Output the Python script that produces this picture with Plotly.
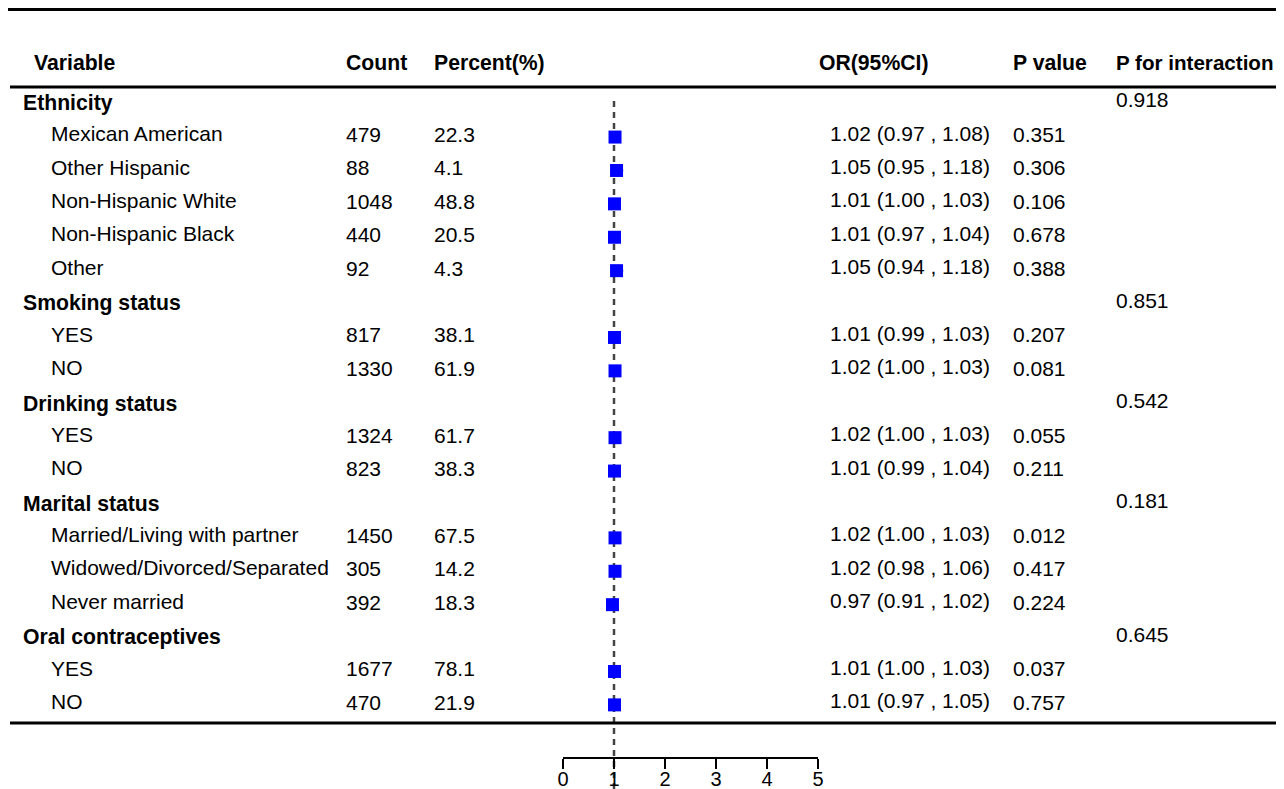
import plotly.graph_objects as go

# ---------------- data ----------------
labels = ["Ethnicity", "Mexican American", "Other Hispanic", "Non-Hispanic White",
          "Non-Hispanic Black", "Other", "Smoking status", "YES", "NO",
          "Drinking status", "YES", "NO", "Marital status",
          "Married/Living with partner", "Widowed/Divorced/Separated", "Never married",
          "Oral contraceptives", "YES", "NO"]
is_group = [True, False, False, False, False, False, True, False, False,
            True, False, False, True, False, False, False, True, False, False]
counts = [None, 479, 88, 1048, 440, 92, None, 817, 1330, None, 1324, 823,
          None, 1450, 305, 392, None, 1677, 470]
percents = [None, "22.3", "4.1", "48.8", "20.5", "4.3", None, "38.1", "61.9", None,
            "61.7", "38.3", None, "67.5", "14.2", "18.3", None, "78.1", "21.9"]
or_est = [None, 1.02, 1.05, 1.01, 1.01, 1.05, None, 1.01, 1.02, None, 1.02, 1.01,
          None, 1.02, 1.02, 0.97, None, 1.01, 1.01]
ci_low = [None, 0.97, 0.95, 1.00, 0.97, 0.94, None, 0.99, 1.00, None, 1.00, 0.99,
          None, 1.00, 0.98, 0.91, None, 1.00, 0.97]
ci_high = [None, 1.08, 1.18, 1.03, 1.04, 1.18, None, 1.03, 1.03, None, 1.03, 1.04,
           None, 1.03, 1.06, 1.02, None, 1.03, 1.05]
p_values = [None, "0.351", "0.306", "0.106", "0.678", "0.388", None, "0.207", "0.081",
            None, "0.055", "0.211", None, "0.012", "0.417", "0.224", None, "0.037", "0.757"]
p_interaction = ["0.918", None, None, None, None, None, "0.851", None, None,
                 "0.542", None, None, "0.181", None, None, None, "0.645", None, None]
headers = ["Variable", "Count", "Percent(%)", "OR(95%CI)", "P value", "P for interaction"]
axis_ticks = [0, 1, 2, 3, 4, 5]
ref_value = 1

# ---------------- layout constants ----------------
PAGE_OFF = 8                      # default body margin of the html page
W, H = 1284 - PAGE_OFF, 789 - PAGE_OFF
ROW0, ROWH = 103.0, 33.4          # page-pixel centre of first row, row pitch


def px_x(p):
    return (p - PAGE_OFF) / W


def px_y(p):
    return 1 - (p - PAGE_OFF) / H


FONT = "Liberation Sans, Arial, Helvetica, sans-serif"
REG = dict(family=FONT, size=21, color="#000000")
BOLD = dict(family=FONT, size=21.2, color="#000000")
BOLD_LAST = dict(family=FONT, size=20.6, color="#000000")

col_x = {"label_group": 22, "label_sub": 50, "count": 345, "percent": 433,
         "or": 829, "p": 1012, "pint": 1115}
head_x = [33, 345, 433, 818, 1012, 1115]
# small vertical nudges (in rows) so glyphs sit like the reference
dy = {"label": -0.08, "count": -0.06, "percent": -0.06, "or": -0.1, "p": -0.06,
      "pint": -0.1, "marker": 0.02}

rows = list(range(len(labels)))
annotations = []


def add_text(x_px, row, text, font):
    annotations.append(dict(x=px_x(x_px - 1), xref="paper", y=row, yref="y",
                            text=text, showarrow=False, xanchor="left",
                            yanchor="middle", font=font))


# header
for k, (hx, h) in enumerate(zip(head_x, headers)):
    add_text(hx, -1.2, "<b>%s</b>" % h, BOLD_LAST if k == len(headers) - 1 else BOLD)

for i in rows:
    if is_group[i]:
        add_text(col_x["label_group"], i, "<b>%s</b>" % labels[i], BOLD)
    else:
        add_text(col_x["label_sub"], i + dy["label"], labels[i], REG)
    if counts[i] is not None:
        add_text(col_x["count"], i + dy["count"], str(counts[i]), REG)
    if percents[i] is not None:
        add_text(col_x["percent"], i + dy["percent"], percents[i], REG)
    if or_est[i] is not None:
        add_text(col_x["or"], i + dy["or"],
                 "%.2f (%.2f , %.2f)" % (or_est[i], ci_low[i], ci_high[i]), REG)
    if p_values[i] is not None:
        add_text(col_x["p"], i + dy["p"], p_values[i], REG)
    if p_interaction[i] is not None:
        add_text(col_x["pint"], i + dy["pint"], p_interaction[i], REG)

# forest markers
mk_rows = [i for i in rows if or_est[i] is not None]
fig = go.Figure()
fig.add_trace(go.Scatter(
    x=[or_est[i] for i in mk_rows],
    y=[i + dy["marker"] for i in mk_rows],
    mode="markers",
    marker=dict(symbol="square", size=13, color="#0000FF", line=dict(width=0)),
    error_x=dict(type="data", symmetric=False,
                 array=[ci_high[i] - or_est[i] for i in mk_rows],
                 arrayminus=[or_est[i] - ci_low[i] for i in mk_rows],
                 color="#0000FF", thickness=2, width=0),
    showlegend=False, hoverinfo="skip", cliponaxis=False,
))

shapes = [
    # top rule
    dict(type="line", xref="paper", yref="paper", x0=0, x1=1,
         y0=px_y(9.5), y1=px_y(9.5), line=dict(color="#000000", width=3)),
    # header rule
    dict(type="line", xref="paper", yref="paper", x0=px_x(10), x1=1,
         y0=px_y(87), y1=px_y(87), line=dict(color="#000000", width=3)),
    # bottom rule
    dict(type="line", xref="paper", yref="paper", x0=px_x(10), x1=1,
         y0=px_y(723), y1=px_y(723), line=dict(color="#000000", width=3)),
    # reference line
    dict(type="line", xref="x", yref="paper", x0=ref_value, x1=ref_value,
         y0=0, y1=px_y(97), line=dict(color="#444444", width=2.5, dash="6px,5px"),
         layer="below"),
]

fig.update_layout(
    width=W, height=H,
    margin=dict(l=0, r=0, t=0, b=0, pad=0, autoexpand=False),
    paper_bgcolor="white", plot_bgcolor="white",
    annotations=annotations, shapes=shapes,
    xaxis=dict(domain=[px_x(563), px_x(818)], range=[0, 5], anchor="free",
               position=px_y(758), tickvals=axis_ticks, ticks="outside",
               ticklen=10, tickwidth=2, tickcolor="#000000", showline=True,
               linecolor="#000000", linewidth=2, showgrid=False, zeroline=False,
               tickfont=dict(family=FONT, size=20, color="#000000"),
               ticklabelstandoff=-7,
               automargin=False, fixedrange=True),
    yaxis=dict(domain=[0, 1],
               range=[(H + PAGE_OFF - ROW0) / ROWH, (PAGE_OFF - ROW0) / ROWH],
               visible=False, showgrid=False, zeroline=False, automargin=False,
               fixedrange=True),
)

fig.write_html("out.html")
